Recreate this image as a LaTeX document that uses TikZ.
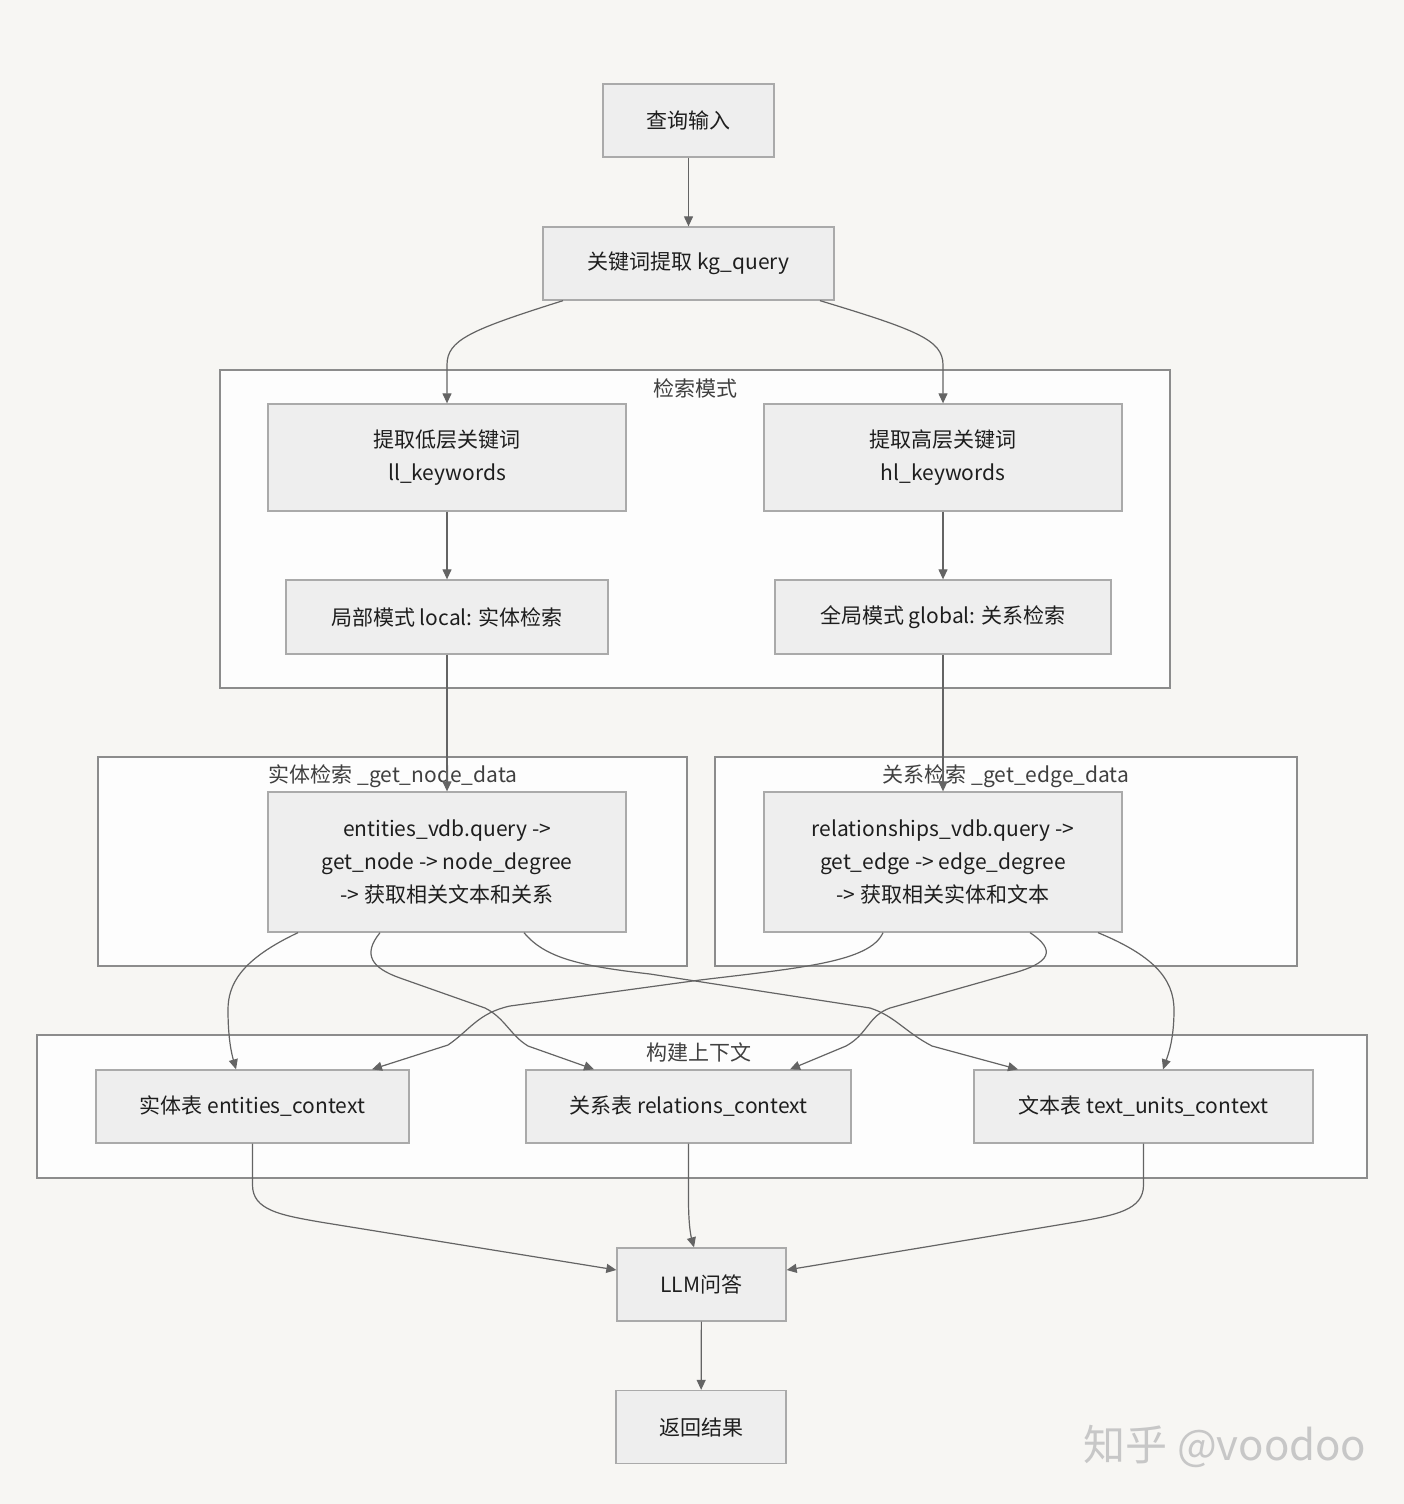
\documentclass[tikz,border=0pt]{standalone}
\usepackage{fontspec}
\setmainfont{Noto Sans CJK SC}
\usetikzlibrary{arrows.meta}
\definecolor{bgcol}{RGB}{247,246,243}
\definecolor{groupfill}{RGB}{253,253,253}
\definecolor{groupline}{RGB}{140,140,140}
\definecolor{nodefill}{RGB}{238,238,238}
\definecolor{nodeline}{RGB}{170,170,170}
\definecolor{linkcol}{RGB}{100,100,100}
\definecolor{textcol}{RGB}{30,30,30}
\begin{document}
\begin{tikzpicture}[x=1pt, y=-1pt, font=\fontsize{21}{33}\selectfont,
    box/.style={draw=nodeline, fill=nodefill, line width=1.3pt, inner sep=0pt,
      minimum height=73pt, align=center, text=textcol},
    group/.style={draw=groupline, fill=groupfill, line width=1.3pt},
    grouplabel/.style={text=textcol!85, inner sep=0pt},
    link/.style={draw=linkcol, line width=1.2pt, -{Triangle[length=10pt,width=9pt]}}]
        % Canvas
        \fill[bgcol] (0,0) rectangle (1404,1504);
        \useasboundingbox (0,0) rectangle (1404,1504);

        % Subgraph frames
        \draw[group] (220,370) rectangle (1170,688);
        \node[grouplabel] (modeLabel) at (695,388) {检索模式};
        \draw[group] (98,757) rectangle (687,966);
        \node[grouplabel] (nodeLabel) at (393,776) {实体检索 \_get\_node\_data};
        \draw[group] (715,757) rectangle (1297,966);
        \node[grouplabel] (edgeLabel) at (1006,776) {关系检索 \_get\_edge\_data};
        \draw[group] (37,1035) rectangle (1367,1178);
        \node[grouplabel] (ctxLabel) at (699,1052) {构建上下文};

        % Query and keywords
        \node[box, minimum width=171pt] (Query) at (688.5,120.5) {查询输入};
        \node[box, minimum width=291pt] (KgQuery) at (688.5,263.5) {关键词提取 kg\_query};
        \node[box, minimum width=358pt, minimum height=107pt] (LowKw) at (447,457.5) {提取低层关键词\\ll\_keywords};
        \node[box, minimum width=358pt, minimum height=107pt] (HighKw) at (943,457.5) {提取高层关键词\\hl\_keywords};
        \node[box, minimum width=322pt, minimum height=74pt] (Local) at (447,617) {局部模式 local: 实体检索};
        \node[box, minimum width=336pt, minimum height=74pt] (Global) at (943,617) {全局模式 global: 关系检索};

        % Retrieval
        \node[box, minimum width=358pt, minimum height=140pt] (NodeData) at (447,862) {entities\_vdb.query ->\\get\_node -> node\_degree\\-> 获取相关文本和关系};
        \node[box, minimum width=358pt, minimum height=140pt] (EdgeData) at (943,862) {relationships\_vdb.query ->\\get\_edge -> edge\_degree\\-> 获取相关实体和文本};

        % Context tables
        \node[box, minimum width=313pt] (EntCtx) at (252.5,1106.5) {实体表 entities\_context};
        \node[box, minimum width=325pt] (RelCtx) at (688.5,1106.5) {关系表 relations\_context};
        \node[box, minimum width=339pt] (TextCtx) at (1143.5,1106.5) {文本表 text\_units\_context};

        % Answer
        \node[box, minimum width=169pt] (Answer) at (701.5,1284.5) {LLM问答};
        \node[box, minimum width=170pt] (Result) at (701,1427) {返回结果};

        % Watermark
        \node[text=black!22, font=\fontsize{42}{42}\selectfont] (mark) at (1225,1446) {知乎 @voodoo};

        % Top links
        \draw[link] (Query) -- (KgQuery);
        \draw[link] (563,0 |- KgQuery.south) .. controls (470,330) and (447,340) .. (447,365) -- (LowKw.north);
        \draw[link] (820,0 |- KgQuery.south) .. controls (917,330) and (943,340) .. (943,365) -- (HighKw.north);
        \draw[link] (LowKw) -- (Local);
        \draw[link] (HighKw) -- (Global);
        \draw[link] (Local) -- (NodeData);
        \draw[link] (Global) -- (EdgeData);

        % Node data to context
        \draw[link] (298,0 |- NodeData.south) .. controls (240,960) and (228,985) .. (228,1010)
            .. controls (228,1040) and (232,1055) .. (236,0 |- EntCtx.north);
        \draw[link] (380,0 |- NodeData.south) .. controls (362,955) and (372,968) .. (400,978)
            -- (485,1008) .. controls (505,1018) and (510,1035) .. (528,1046) -- (594,0 |- RelCtx.north);
        \draw[link] (524,0 |- NodeData.south) .. controls (545,958) and (580,966) .. (650,974)
            -- (870,1008) .. controls (895,1016) and (905,1032) .. (932,1046) -- (1018,0 |- TextCtx.north);

        % Edge data to context
        \draw[link] (883,0 |- EdgeData.south) .. controls (870,962) and (800,968) .. (700,980)
            -- (510,1006) .. controls (478,1013) and (470,1030) .. (448,1045) -- (372,0 |- EntCtx.north);
        \draw[link] (1030,0 |- EdgeData.south) .. controls (1056,950) and (1052,963) .. (1010,974)
            -- (890,1008) .. controls (868,1016) and (868,1034) .. (846,1046) -- (790,0 |- RelCtx.north);
        \draw[link] (1098,0 |- EdgeData.south) .. controls (1152,955) and (1174,978) .. (1174,1010)
            .. controls (1174,1040) and (1168,1055) .. (1163,0 |- TextCtx.north);

        % Context to answer
        \draw[link] (EntCtx.south) -- (252.5,1185) .. controls (252.5,1210) and (280,1215) .. (320,1222) -- (Answer.west |- 0,1270);
        \draw[link] (RelCtx.south) -- (688.5,1200) .. controls (688.5,1230) and (692,1240) .. (694,0 |- Answer.north);
        \draw[link] (TextCtx.south) -- (1143.5,1185) .. controls (1143.5,1210) and (1116,1215) .. (1076,1222) -- (Answer.east |- 0,1270);
        \draw[link] (Answer) -- (Result);
\end{tikzpicture}
\end{document}
